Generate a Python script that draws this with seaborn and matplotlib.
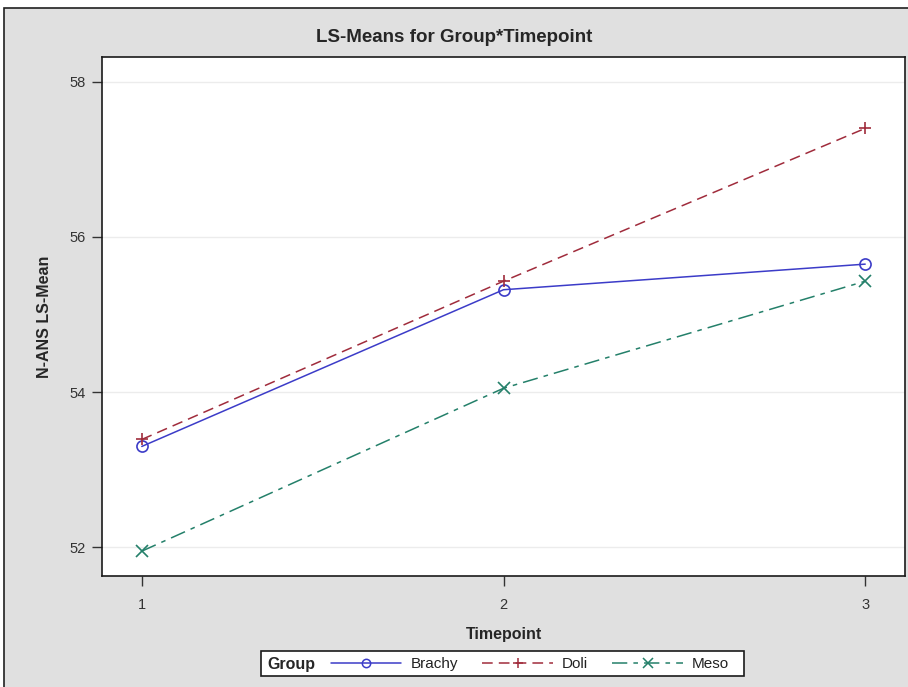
import matplotlib
matplotlib.use("Agg")
import matplotlib.pyplot as plt
from matplotlib.lines import Line2D
from matplotlib.patches import Rectangle
import pandas as pd
import seaborn as sns

# LS-means
timepoints = [1, 2, 3]
brachy = [53.30, 55.32, 55.65]
doli = [53.39, 55.43, 57.40]
meso = [51.95, 54.05, 55.43]
groups = ["Brachy", "Doli", "Meso"]
y_ticks = [52, 54, 56, 58]

colors = {"Brachy": "#3c3cc8", "Doli": "#a02c3c", "Meso": "#24806a"}
dash_map = {"Brachy": "", "Doli": (7, 4), "Meso": (10, 4, 3, 4)}
mk = {"Brachy": "o", "Doli": "+", "Meso": "x"}

df = pd.DataFrame({
    "Timepoint": timepoints * 3,
    "LSMean": brachy + doli + meso,
    "Group": [g for g in groups for _ in timepoints],
})

sns.set_style("white")
plt.rcParams["font.family"] = ["Liberation Sans Narrow", "Liberation Sans", "DejaVu Sans"]

fig = plt.figure(figsize=(9.08, 6.87), dpi=100)
fig.patch.set_facecolor("white")

# gray panel with dark frame like the SAS output
fig.add_artist(Rectangle((4 / 908, -0.01), 910 / 908, 1.01 - 8 / 687, transform=fig.transFigure,
                         facecolor="#e0e0e0", edgecolor="#202020", linewidth=1.2, zorder=-10))

ax = fig.add_axes([102 / 908, 1 - 576 / 687, 803 / 908, 519 / 687])
ax.set_facecolor("white")

sns.lineplot(data=df, x="Timepoint", y="LSMean", hue="Group", style="Group",
             palette=colors, dashes=dash_map, markers=False, linewidth=1.1,
             legend=False, ax=ax)

for g, vals in zip(groups, [brachy, doli, meso]):
    ax.plot(timepoints, vals, linestyle="none", marker=mk[g], markersize=8,
            markerfacecolor="none", markeredgecolor=colors[g], markeredgewidth=1.2)

ax.set_xlim(0.89, 3.11)
ax.set_ylim(51.63, 58.32)
ax.set_xticks(timepoints)
ax.set_yticks(y_ticks)
ax.tick_params(axis="both", direction="out", length=7, width=1, color="#333333",
               labelsize=10.5, labelcolor="#333333", left=True, bottom=True, pad=5)
ax.tick_params(axis="x", pad=9)
for y in y_ticks:
    ax.axhline(y, color="#ececec", linewidth=1, zorder=0)
for s in ax.spines.values():
    s.set_color("#1a1a1a")
    s.set_linewidth(1.2)

ax.set_xlabel("Timepoint", fontsize=11.5, fontweight="bold", labelpad=11)
ax.set_ylabel("N-ANS LS-Mean", fontsize=11.5, fontweight="bold", labelpad=12)
fig.text(0.5, 1 - 37 / 687, "LS-Means for Group*Timepoint", ha="center", va="center",
         fontsize=13.5, fontweight="bold")

# legend box with "Group" label on the left
fig.add_artist(Rectangle((261 / 908, 1 - 676 / 687), 483 / 908, 25 / 687, transform=fig.transFigure,
                         facecolor="white", edgecolor="#1a1a1a", linewidth=1.2, zorder=5))
fig.text(267 / 908, 1 - 664 / 687, "Group", ha="left", va="center", fontsize=11.5,
         fontweight="bold", zorder=6)
handles = []
for g in groups:
    ls = "-" if g == "Brachy" else (0, dash_map[g])
    handles.append(Line2D([], [], color=colors[g], linestyle=ls, linewidth=1.1, marker=mk[g],
                          markersize=6 if g == "Brachy" else 7, markerfacecolor="none",
                          markeredgecolor=colors[g], markeredgewidth=1.1))
leg = fig.legend(handles, groups, loc="center left", bbox_to_anchor=(331 / 908, 1 - 664 / 687),
                 ncol=3, frameon=False, fontsize=11, handlelength=4.6, handletextpad=0.6,
                 columnspacing=1.6, borderpad=0, borderaxespad=0)
leg.set_zorder(7)
for t in leg.get_texts():
    t.set_color("#222222")

fig.savefig("out.png", dpi=100)
